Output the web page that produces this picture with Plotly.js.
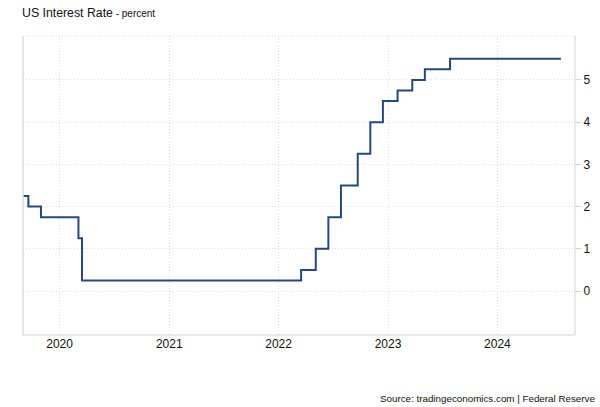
<!DOCTYPE html>
<html>
<head>
<meta charset="utf-8">
<script src="https://cdn.plot.ly/plotly-3.0.1.min.js"></script>
<style>
html,body{margin:0;padding:0;background:#fff;}
#chart{width:600px;height:407px;}
</style>
</head>
<body>
<div id="chart"></div>
<script>
// Federal funds target rate (upper bound), percent — step changes
const dates = [
  "2019-08-01", "2019-09-19", "2019-10-31", "2020-03-04", "2020-03-16",
  "2022-03-17", "2022-05-05", "2022-06-16", "2022-07-28", "2022-09-22",
  "2022-11-03", "2022-12-15", "2023-02-02", "2023-03-23", "2023-05-04",
  "2023-07-27", "2024-07-31"
];
const rates = [
  2.25, 2.00, 1.75, 1.25, 0.25,
  0.50, 1.00, 1.75, 2.50, 3.25,
  4.00, 4.50, 4.75, 5.00, 5.25,
  5.50, 5.50
];
const yearTicks = ["2020-01-01", "2021-01-01", "2022-01-01", "2023-01-01", "2024-01-01"];
const yearLabels = ["2020", "2021", "2022", "2023", "2024"];
const rateTicks = [0, 1, 2, 3, 4, 5];

const font = "Liberation Sans, Arial, sans-serif";
const gridCol = "#dedede";

const trace = {
  x: dates,
  y: rates,
  type: "scatter",
  mode: "lines",
  line: {shape: "hv", color: "#27497a", width: 2},
  hoverinfo: "x+y"
};

const layout = {
  width: 600,
  height: 407,
  margin: {l: 23, r: 25, t: 36, b: 72},
  paper_bgcolor: "#ffffff",
  plot_bgcolor: "#ffffff",
  showlegend: false,
  title: {
    text: "US Interest Rate<span style='font-size:10px'> - percent</span>",
    x: 22 / 600, xanchor: "left", xref: "container",
    y: 1 - 13 / 407, yanchor: "middle", yref: "container",
    font: {family: font, size: 12.3, color: "#111"}
  },
  xaxis: {
    type: "date",
    range: ["2019-09-01", "2024-09-16"],
    tickvals: yearTicks,
    ticktext: yearLabels,
    showgrid: true,
    gridcolor: gridCol,
    griddash: "1px,2px",
    gridwidth: 1,
    zeroline: false,
    showline: false,
    ticks: "",
    tickfont: {family: font, size: 12, color: "#111"}
  },
  yaxis: {
    side: "right",
    range: [-1.04, 6.04],
    tickvals: rateTicks,
    showgrid: true,
    gridcolor: gridCol,
    griddash: "1px,2px",
    gridwidth: 1,
    zeroline: false,
    showline: false,
    ticks: "outside",
    ticklen: 5,
    tickcolor: "#d4d4d4",
    tickfont: {family: font, size: 12, color: "#111"}
  },
  shapes: [
    {type: "line", xref: "paper", yref: "paper", x0: 0, x1: 0, y0: 0, y1: 1, line: {color: "#dcdcdc", width: 1.5}},
    {type: "line", xref: "paper", yref: "paper", x0: 1, x1: 1, y0: 0, y1: 1, line: {color: "#d4d4d4", width: 1}},
    {type: "line", xref: "paper", yref: "paper", x0: 0, x1: 1, y0: 0, y1: 0, line: {color: "#d4d4d4", width: 1}},
    {type: "line", xref: "paper", yref: "paper", x0: 0, x1: 1, y0: 1, y1: 1, line: {color: gridCol, width: 1, dash: "1px,2px"}}
  ],
  annotations: [
    {
      text: "Source: tradingeconomics.com | Federal Reserve",
      xref: "paper", yref: "paper",
      x: 1.04, y: -0.211, xanchor: "right", yanchor: "middle",
      showarrow: false,
      font: {family: font, size: 9.8, color: "#111"}
    }
  ]
};

Plotly.newPlot("chart", [trace], layout, {displayModeBar: false, staticPlot: true});
</script>
</body>
</html>
